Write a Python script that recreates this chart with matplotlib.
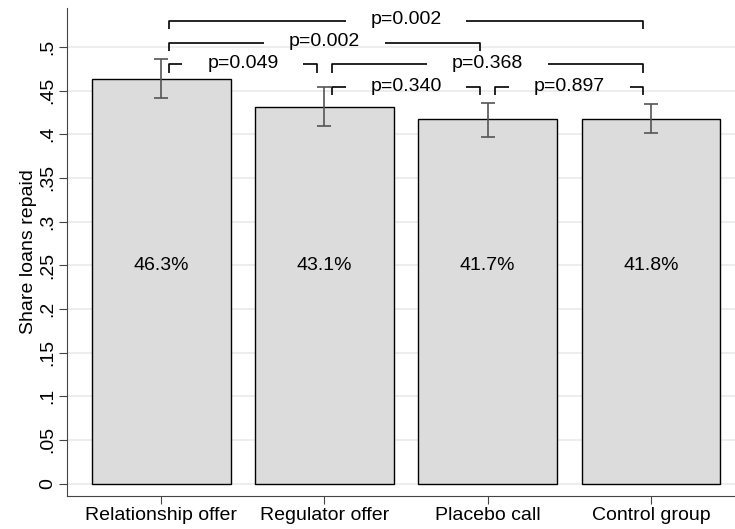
import matplotlib
matplotlib.use('Agg')
import matplotlib.pyplot as plt
import numpy as np

groups = ['Relationship offer', 'Regulator offer', 'Placebo call', 'Control group']
shares = [0.463, 0.431, 0.417, 0.418]
ci_low = [0.441, 0.409, 0.397, 0.402]
ci_high = [0.486, 0.454, 0.436, 0.435]

# pairwise comparisons: (left bar, right bar), bracket height, p-value text
pairs = [(0, 3), (0, 2), (0, 1), (1, 3), (1, 2), (2, 3)]
pair_heights = [0.530, 0.505, 0.480, 0.480, 0.454, 0.454]
pair_labels = ['p=0.002', 'p=0.002', 'p=0.049', 'p=0.368', 'p=0.340', 'p=0.897']

yticks = [0, 0.05, 0.1, 0.15, 0.2, 0.25, 0.3, 0.35, 0.4, 0.45, 0.5]
ytick_labels = ['0', '.05', '.1', '.15', '.2', '.25', '.3', '.35', '.4', '.45', '.5']

plt.rcParams['font.family'] = ['Liberation Sans', 'DejaVu Sans']
fs = 14

fig = plt.figure(figsize=(7.35, 5.29), dpi=100)
ax = fig.add_axes([0.0912, 0.0624, 0.9088, 0.9226])

x = np.arange(len(groups))
ax.bar(x, shares, width=0.85, color='#dcdcdc', edgecolor='black', linewidth=1.0, zorder=2)
yerr = [np.array(shares) - np.array(ci_low), np.array(ci_high) - np.array(shares)]
ax.errorbar(x, shares, yerr=yerr, fmt='none', ecolor='#555555', elinewidth=1.2,
            capsize=5, capthick=1.2, zorder=3)

for i in range(len(groups)):
    ax.text(x[i], 0.25, f'{shares[i]*100:.1f}%', ha='center', va='center', fontsize=fs, zorder=4)

off = 0.047
drop = 0.0095
gap = 0.37
for (a, b), h, lab in zip(pairs, pair_heights, pair_labels):
    x0 = x[a] + off
    x1 = x[b] - off
    mid = (x0 + x1) / 2
    ax.plot([x0, x0, mid - gap], [h - drop, h, h], color='black', lw=1.2, zorder=4,
            solid_capstyle='butt')
    ax.plot([mid + gap, x1, x1], [h, h, h - drop], color='black', lw=1.2, zorder=4,
            solid_capstyle='butt')
    ax.text(mid, h + 0.001, lab, ha='center', va='center', fontsize=fs, zorder=4)

ax.set_xlim(-0.577, 3.515)
ax.set_ylim(-0.0143, 0.5447)
ax.set_yticks(yticks)
ax.set_yticklabels(ytick_labels, rotation=90, va='center', fontsize=fs)
ax.set_xticks(x)
ax.set_xticklabels(groups, fontsize=fs)
ax.set_ylabel('Share loans repaid', fontsize=fs, labelpad=2)
ax.yaxis.grid(True, color='#eaeaea', lw=1.2, zorder=0)
ax.set_axisbelow(True)
for s in ['top', 'right']:
    ax.spines[s].set_visible(False)
ax.spines['left'].set_color('#444444')
ax.spines['bottom'].set_color('#444444')
ax.tick_params(axis='y', color='#444444', length=5.5, pad=2)
ax.tick_params(axis='x', color='#444444', length=6, pad=2)

fig.savefig('out.png', dpi=100)
